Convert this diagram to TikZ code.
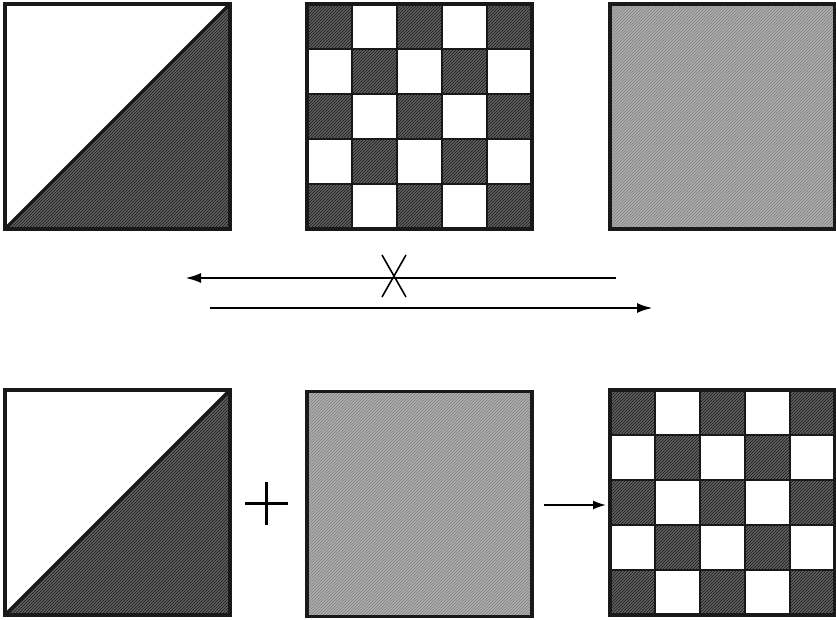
\documentclass[tikz,border=0pt]{standalone}
\usetikzlibrary{arrows.meta,patterns}
\begin{document}
\begin{tikzpicture}[x=1pt,y=-1pt,
  frame/.style={draw=black!90,line width=3.4pt},
  darkfill/.style={fill=black!62},
  lightfill/.style={fill=black!32},
  darkhatch/.style={pattern=north east lines,pattern color=black!90},
  lighthatch/.style={pattern=north east lines,pattern color=black!50},
  cellline/.style={draw=black!90,line width=2.8pt},
  arr/.style={line width=2.6pt,-{Latex[length=16pt,width=10pt]}},
  sarr/.style={line width=1.8pt,-{Latex[length=13pt,width=9pt]}},
  sq/.style={minimum size=225pt,inner sep=0pt,outer sep=0pt,rectangle}]
\useasboundingbox (0,0) rectangle (836,620);
% ---------- square nodes ----------
\node[sq] (tl) at (117.5,116.5) {};
\node[sq] (tm) at (419.5,116.5) {};
\node[sq] (tr) at (722.5,116.5) {};
\node[sq] (bl) at (117.5,502.5) {};
\node[sq] (bm) at (419.5,504) {};
\node[sq] (br) at (722.5,502.5) {};
% ---------- half squares ----------
\foreach \n in {tl,bl}{
  \fill[darkfill] (\n.south west) -- (\n.north east) -- (\n.south east) -- cycle;
  \fill[darkhatch] (\n.south west) -- (\n.north east) -- (\n.south east) -- cycle;
  \draw[frame] (\n.south west) rectangle (\n.north east);
  \draw[frame] (\n.south west) -- (\n.north east);
}
% ---------- uniform squares ----------
\foreach \n in {tr,bm}{
  \fill[lightfill] (\n.south west) rectangle (\n.north east);
  \fill[lighthatch] (\n.south west) rectangle (\n.north east);
  \draw[frame] (\n.south west) rectangle (\n.north east);
}
% ---------- checkerboards ----------
\foreach \n in {tm,br}{
  \foreach \i in {0,...,4}{
    \foreach \j in {0,...,4}{
      \pgfmathtruncatemacro{\parity}{mod(\i+\j,2)}
      \ifnum\parity=0
        \fill[darkfill] ([shift={(\i*45,\j*45)}]\n.north west) rectangle ++(45,45);
        \fill[darkhatch] ([shift={(\i*45,\j*45)}]\n.north west) rectangle ++(45,45);
      \fi
    }
  }
  \foreach \k in {1,...,4}{
    \draw[cellline] ([shift={(\k*45,0)}]\n.north west) -- ([shift={(\k*45,0)}]\n.south west);
    \draw[cellline] ([shift={(0,\k*45)}]\n.north west) -- ([shift={(0,\k*45)}]\n.north east);
  }
  \draw[frame] (\n.south west) rectangle (\n.north east);
}
% ---------- top arrows ----------
\coordinate (a1s) at (616,278);
\coordinate (a1e) at (185,278);
\coordinate (a2s) at (210,308);
\coordinate (a2e) at (653,308);
\draw[arr] (a1s) -- (a1e);
\draw[arr] (a2s) -- (a2e);
\coordinate (xc) at (394,276);
\draw[line width=1.6pt] ([shift={(-12,-21)}]xc) -- ([shift={(12,21)}]xc);
\draw[line width=1.6pt] ([shift={(12,-21)}]xc) -- ([shift={(-12,21)}]xc);
% ---------- plus ----------
\coordinate (pc) at (266.5,503.5);
\draw[line width=2.8pt] ([shift={(-21.5,0)}]pc) -- ([shift={(21.5,0)}]pc);
\draw[line width=2.8pt] ([shift={(0,-21.5)}]pc) -- ([shift={(0,21.5)}]pc);
% ---------- small arrow ----------
\coordinate (sas) at (544,505);
\coordinate (sae) at (606,505);
\draw[sarr] (sas) -- (sae);
\end{tikzpicture}
\end{document}
